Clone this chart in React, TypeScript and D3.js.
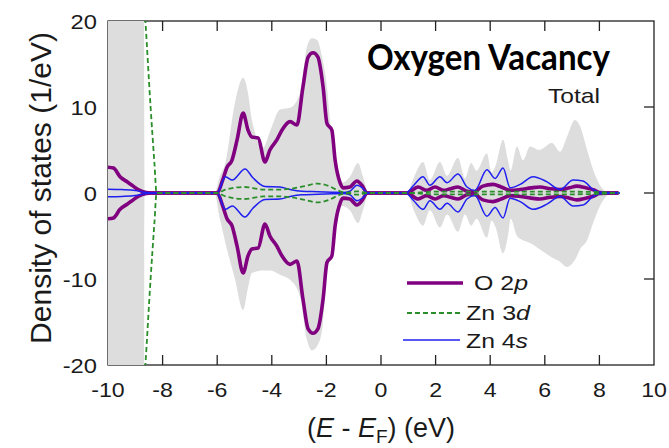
import * as d3 from 'd3'

// energy axis (eV) and projected DOS (spin up = +, spin down = -)
const o2pE = [-10, -9.8, -9.56, -9.3, -9.12, -8.9, -8.6, -8.4, -6.0, -5.8, -5.64, -5.46, -5.27, -5.05, -4.87, -4.73, -4.5, -4.25, -4.07, -3.81, -3.63, -3.33, -3.08, -2.86, -2.67, -2.49, -2.31, -2.12, -1.98, -1.8, -1.68, -1.5, -1.39, -1.14, -0.88, -0.7, -0.5, 0.95, 1.36, 1.67, 1.98, 2.3, 2.55, 2.82, 3.15, 3.4, 3.73, 4.1, 4.4, 4.73, 5.1, 5.5, 5.82, 6.2, 6.56, 6.9, 7.17, 7.5, 7.8, 8.0, 8.7]
const o2pV = [3.0, 2.9, 1.9, 1.3, 0.9, 0.4, 0.05, 0, 0, 1.5, 3.0, 3.8, 6.2, 9.3, 7.3, 6.5, 6.4, 3.6, 5.0, 6.2, 7.3, 8.3, 7.9, 12.3, 15.8, 16.3, 15.8, 12.3, 8.1, 7.3, 3.8, 1.2, 0.6, 0.7, 1.4, 0.9, 0, 0, 0.7, 0.3, 0.7, 0.3, 0.5, 0.7, 0.2, 0.1, 0.8, 1.0, 0.7, 0.3, 0.4, 0.6, 0.7, 0.5, 0.4, 0.6, 0.8, 0.6, 0.35, 0.05, 0]

const zn3dE = [-10, -9, -8.8, -8.63, -8.44, -8.3, -8.22, -6.0, -5.7, -5.0, -4.3, -3.7, -3.3, -2.8, -2.34, -1.9, -1.5, -1.2, -0.88, -0.5, 0.9, 2, 3, 4, 5, 6, 7, 8, 8.7]
const zn3dV = [60, 40, 28, 20, 10, 3.5, 0, 0, 0.4, 0.7, 0.4, 0.4, 0.5, 0.8, 1.1, 0.8, 0.2, 0.05, 0.2, 0, 0, 0.15, 0.15, 0.15, 0.15, 0.15, 0.15, 0.1, 0]

const zn4sE = [-10, -9.5, -9.0, -8.6, -8.4, -6.0, -5.7, -5.45, -4.98, -4.7, -4.25, -3.7, -3.33, -2.9, -2.3, -1.8, -1.4, -1.14, -0.88, -0.65, -0.5, 0.9, 1.2, 1.54, 1.79, 2.16, 2.42, 2.82, 3.15, 3.44, 3.88, 4.18, 4.47, 4.73, 5.1, 5.57, 6.08, 6.56, 7.04, 7.4, 7.77, 8.1, 8.75]
const zn4sV = [0.45, 0.4, 0.3, 0.05, 0, 0, 1.9, 1.5, 2.8, 1.8, 0.75, 0.7, 0.4, 0.2, 0.15, 0.1, 0.05, 0.2, 0.9, 0.5, 0, 0, 0.9, 1.9, 0.9, 1.9, 1.2, 2.2, 0.7, 0.3, 2.7, 1.7, 2.9, 0.6, 1.0, 1.9, 1.3, 0.4, 1.5, 1.4, 0.4, 0.05, 0]

const totalE = [-10, -8.7, -8.66, -6.1, -5.9, -5.7, -5.35, -5.05, -4.87, -4.73, -4.32, -4.05, -3.7, -3.33, -2.97, -2.71, -2.53, -2.34, -2.16, -1.98, -1.87, -1.6, -1.43, -1.14, -0.84, -0.66, -0.45, 0.95, 1.2, 1.54, 1.79, 2.16, 2.42, 2.82, 3.08, 3.3, 3.5, 3.88, 4.05, 4.2, 4.47, 4.65, 4.75, 4.98, 5.2, 5.46, 5.8, 6.26, 6.56, 6.81, 7.1, 7.3, 7.55, 7.77, 8.02, 8.28, 8.45]
const totalUp = [40, 40, 0, 0, 2.0, 3.5, 10.5, 13.4, 11.6, 8.5, 5.3, 7.3, 9.7, 9.9, 11.6, 17, 18, 17.8, 15.8, 12.3, 8.5, 2.7, 1.2, 1.9, 3.5, 1.9, 0, 0, 1.8, 3.6, 1.5, 3.6, 2.0, 4.1, 1.7, 3.5, 2.6, 4.6, 2.4, 3.2, 6.2, 3.8, 2.6, 5.4, 3.8, 5.4, 5.0, 5.8, 4.8, 6.5, 8.5, 7.7, 5.0, 2.7, 0.9, 0.1, 0]
const totalDown = [40, 40, 0, 0, 3.0, 5.8, 10.0, 13.6, 11.0, 9.3, 9.0, 9.0, 9.5, 10.1, 12.0, 17.1, 18.3, 17.8, 16.0, 9.3, 7.0, 2.3, 1.5, 2.0, 3.5, 2.0, 0, 0, 2.0, 3.8, 2.0, 4.0, 2.5, 4.5, 2.5, 3.8, 3.0, 5.2, 3.2, 4.0, 7.0, 5.0, 3.0, 5.0, 5.5, 5.8, 6.5, 7.5, 8.0, 8.6, 7.8, 6.5, 5.5, 3.5, 1.5, 0.3, 0]

const xTicks = [-10, -8, -6, -4, -2, 0, 2, 4, 6, 8, 10]
const yTicks = [20, 10, 0, -10, -20]

const W = 669
const H = 448
const left = 108, right = 654, top = 21, bottom = 365

const x = d3.scaleLinear().domain([-10, 10]).range([left, right])
const y = d3.scaleLinear().domain([-20, 20]).range([bottom, top])

const PURPLE = '#800080'
const GREEN = '#2a8f2a'
const BLUE = '#1f1ff0'
const GRAY = '#dddddd'
const INK = '#1a1a1a'

function line(es: number[], vs: number[], sign: number) {
  const pts = es.map((e, i) => [e, sign * vs[i]] as [number, number])
  return d3.line<[number, number]>().x(d => x(d[0])).y(d => y(d[1])).curve(d3.curveMonotoneX)(pts) || ''
}

function totalArea() {
  const pts = totalE.map((e, i) => [e, totalUp[i], -totalDown[i]])
  return d3.area<number[]>().x(d => x(d[0])).y0(d => y(d[2])).y1(d => y(d[1])).curve(d3.curveMonotoneX)(pts) || ''
}

const sans = 'Liberation Sans, Arial, sans-serif'
// the source figure is a little wider than tall, so its lettering is stretched sideways
const SX = 1.13

export default function App() {
  const tickLen = 10
  return (
    <svg width={W} height={H} style={{ position: 'absolute', left: 0, top: 0, background: '#fff' }} fontFamily={sans}>
      <defs>
        <clipPath id="plot">
          <rect x={left} y={top} width={right - left} height={bottom - top} />
        </clipPath>
      </defs>
      <rect x={left} y={top} width={right - left} height={bottom - top} fill="none" stroke="#222" strokeWidth={1.3} />
      {xTicks.slice(1, -1).map(t => (
        <g key={'xt' + t}>
          <line x1={x(t)} x2={x(t)} y1={top} y2={top + tickLen} stroke="#222" strokeWidth={1.3} />
          <line x1={x(t)} x2={x(t)} y1={bottom} y2={bottom - tickLen} stroke="#222" strokeWidth={1.3} />
        </g>
      ))}
      {yTicks.slice(1, -1).map(t => (
        <line key={'yt' + t} x1={right} x2={right - tickLen} y1={y(t)} y2={y(t)} stroke="#222" strokeWidth={1.3} />
      ))}
      <g clipPath="url(#plot)">
        <path d={totalArea()} fill={GRAY} />
        {[1, -1].map(s => (
          <path key={'p' + s} d={line(o2pE, o2pV, s)} fill="none" stroke={PURPLE} strokeWidth={3.6} strokeLinejoin="round" />
        ))}
        {[1, -1].map(s => (
          <path key={'b' + s} d={line(zn4sE, zn4sV, s)} fill="none" stroke={BLUE} strokeWidth={1.5} />
        ))}
        {[1, -1].map(s => (
          <path key={'g' + s} d={line(zn3dE, zn3dV, s)} fill="none" stroke={GREEN} strokeWidth={1.8} strokeDasharray="5,3" />
        ))}
      </g>
      {xTicks.map(t => (
        <text key={'xl' + t} transform={`translate(${x(t)},397) scale(${SX},1)`} textAnchor="middle" fontSize={20.5} fill={INK}>{t}</text>
      ))}
      {yTicks.map(t => (
        <text key={'yl' + t} transform={`translate(97,${y(t) + 7.5}) scale(${SX},1)`} textAnchor="end" fontSize={21} fill={INK}>{t}</text>
      ))}
      <text transform={`translate(40,${188}) rotate(-90)`} textAnchor="middle" dominantBaseline="central" fontSize={30} fill={INK}>
        Density of states (1/eV)
      </text>
      <text x={381} y={437} textAnchor="middle" fontSize={27} fill={INK}>
        (<tspan fontStyle="italic">E</tspan> - <tspan fontStyle="italic">E</tspan><tspan fontSize={19} dy={6}>F</tspan><tspan dy={-6}>) (eV)</tspan>
      </text>
      <text x={367} y={70} fontFamily="Lato, Open Sans, sans-serif" fontWeight="bold" fontSize={37} textLength={243} lengthAdjust="spacingAndGlyphs" fill="#000">
        Oxygen Vacancy
      </text>
      <text x={548} y={103} fontSize={21} textLength={52} lengthAdjust="spacingAndGlyphs" fill={INK}>Total</text>
      <g fontSize={21} fill={INK}>
        <line x1={407} x2={463} y1={283} y2={283} stroke={PURPLE} strokeWidth={3.6} />
        <text x={474} y={290} textLength={54} lengthAdjust="spacingAndGlyphs">O 2<tspan fontStyle="italic">p</tspan></text>
        <line x1={407} x2={461} y1={313} y2={313} stroke={GREEN} strokeWidth={1.8} strokeDasharray="5,3" />
        <text x={466} y={320} textLength={64} lengthAdjust="spacingAndGlyphs">Zn 3<tspan fontStyle="italic">d</tspan></text>
        <line x1={403} x2={460} y1={340} y2={340} stroke={BLUE} strokeWidth={1.5} />
        <text x={466} y={348} textLength={62} lengthAdjust="spacingAndGlyphs">Zn 4<tspan fontStyle="italic">s</tspan></text>
      </g>
    </svg>
  )
}
